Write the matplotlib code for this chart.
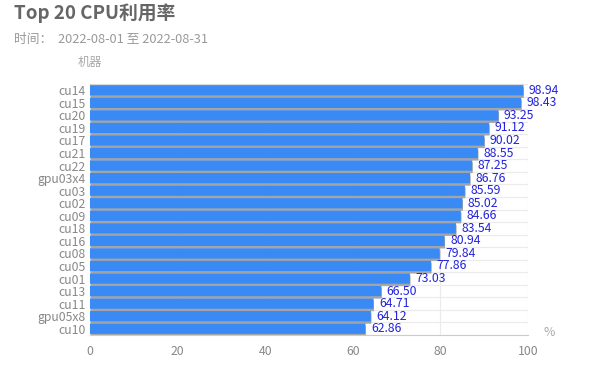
import matplotlib
matplotlib.use("Agg")
import matplotlib.pyplot as plt
from matplotlib.transforms import ScaledTranslation

plt.rcParams['font.family'] = ['Noto Sans CJK SC', 'DejaVu Sans']

machines = ["cu14", "cu15", "cu20", "cu19", "cu17", "cu21", "cu22", "gpu03x4", "cu03", "cu02",
            "cu09", "cu18", "cu16", "cu08", "cu05", "cu01", "cu13", "cu11", "gpu05x8", "cu10"]
cpu_util = [98.94, 98.43, 93.25, 91.12, 90.02, 88.55, 87.25, 86.76, 85.59, 85.02,
            84.66, 83.54, 80.94, 79.84, 77.86, 73.03, 66.50, 64.71, 64.12, 62.86]
x_ticks = [0, 20, 40, 60, 80, 100]

title = "Top 20 CPU利用率"
subtitle = "时间：  2022-08-01 至 2022-08-31"

fig = plt.figure(figsize=(5.9, 3.85), dpi=100)
ax = fig.add_axes([90/590, 1-335/385, (528-90)/590, (335-84)/385])

n = len(machines)
ypos = list(range(n))
bar_h = 0.82

# soft shadow
for dy, a in [(-2.5, 0.75), (-1.5, 0.5), (1.0, 0.25)]:
    off = ScaledTranslation(0.5/100, dy/100, fig.dpi_scale_trans)
    sh = ax.barh(ypos, cpu_util, height=bar_h, color="#999999", alpha=a, zorder=2, linewidth=0)
    for p in sh:
        p.set_transform(ax.transData + off)
        p.set_snap(False)
bars = ax.barh(ypos, cpu_util, height=bar_h, color="#3a8af5", zorder=3, linewidth=0)
for p in bars:
    p.set_snap(False)

for y, v in zip(ypos, cpu_util):
    ax.annotate(f"{v:.2f}", (v, y), xytext=(4, 0), textcoords="offset points",
                va="center", ha="left", fontsize=8.8, color="#2222dd", zorder=4)

ax.set_ylim(n - 0.5, -0.5)
ax.set_xlim(0, 100)
ax.set_yticks(ypos)
ax.set_yticklabels(machines)
ax.set_xticks(x_ticks)
ax.set_xticklabels([str(t) for t in x_ticks])

# grid lines
for t in x_ticks[1:]:
    ax.axvline(t, color="#ebebeb", lw=0.8, zorder=0)
for k in range(n + 1):
    ax.axhline(k - 0.5, color="#ebebeb", lw=0.8, zorder=0)

for s in ["top", "right"]:
    ax.spines[s].set_visible(False)
ax.spines["left"].set_color("#cccccc")
ax.spines["bottom"].set_color("#cccccc")
ax.tick_params(axis="both", length=0, labelsize=8.8, labelcolor="#888888")
ax.tick_params(axis="x", pad=7)
ax.tick_params(axis="y", pad=3)

fig.text(14/590, 1-13/385, title, fontsize=13.5, fontweight="bold", color="#666666", va="center", ha="left")
fig.text(14/590, 1-40/385, subtitle, fontsize=9.2, color="#999999", va="center", ha="left")
fig.text(78/590, 1-62/385, "机器", fontsize=8.8, color="#aaaaaa", va="center", ha="left")
fig.text(544/590, 1-333/385, "%", fontsize=8.8, color="#aaaaaa", va="center", ha="left")

fig.savefig("out.png", dpi=100)
